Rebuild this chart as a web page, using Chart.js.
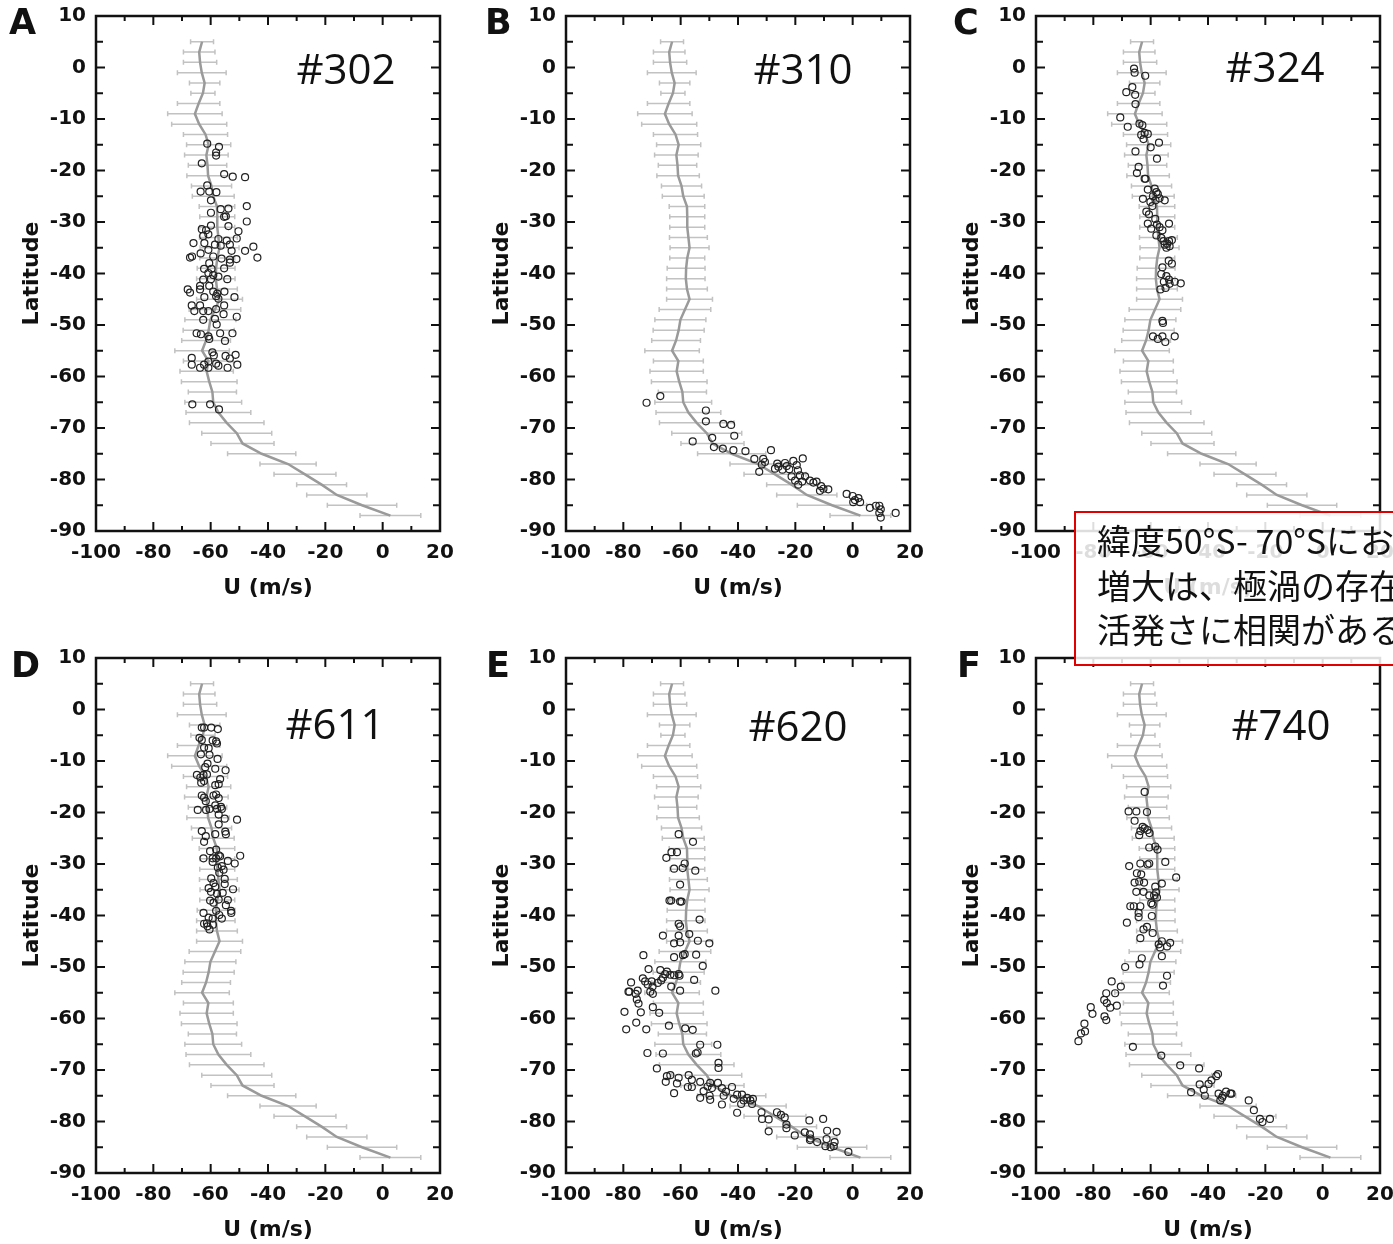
<!DOCTYPE html>
<html>
<head>
<meta charset="utf-8">
<script src="https://cdn.jsdelivr.net/npm/chart.js@4.4.1/dist/chart.umd.min.js"></script>
<style>
  html, body { margin: 0; padding: 0; background: #fff; overflow: hidden; }
  body { width: 1393px; height: 1244px; position: relative; }
  canvas { position: absolute; }
  .letter { position: absolute; font: bold 35px "DejaVu Sans", sans-serif; line-height: 1; color: #111; }
  .tag { position: absolute; font: 42px "Open Sans", sans-serif; line-height: 1; color: #111;
         transform: translate(-50%, -50%); white-space: nowrap; }
  .note { position: absolute; left: 1074px; top: 511px; width: 400px; height: 155px; box-sizing: border-box;
          border: 2px solid #e00000; background: rgba(255, 255, 255, 0.86);
          padding: 5px 0 0 21px; font: 34px "Noto Sans CJK JP", sans-serif; line-height: 44.5px;
          color: #111; white-space: nowrap; }
</style>
</head>
<body>
<script>
// mean zonal wind profile (grey line) and its spread
const profileLat = [5, 3, 1, -1, -3, -5, -7, -9, -11, -13, -15, -17, -19, -21, -23, -25, -27, -29, -31, -33,
    -35, -37, -39, -41, -43, -45, -47, -49, -51, -53, -55, -57, -59, -61, -63, -65, -67, -69, -71, -73,
    -75, -77, -79, -81, -83, -85, -87];
const profileU = [-63, -64, -63.7, -63.1, -62.1, -62.7, -64.2, -65.5, -64, -61.8, -60.7, -61.5, -61.1, -60.9,
    -59.7, -59.1, -57.8, -57.7, -57.7, -57.3, -56.9, -57.7, -58.1, -58.2, -57.8, -56.9, -58.5, -60.1, -60.7,
    -61.6, -63, -60.8, -61.4, -60.5, -59.4, -59.1, -57.3, -54.4, -50.9, -48.9, -42.2, -33, -27.1, -21.3,
    -16, -7.2, 2.7];
const profileErr = [4, 5.5, 5.8, 8.5, 5.3, 4.2, 7.4, 9.5, 9.6, 7.7, 7.7, 7.6, 6.7, 7.4, 7, 7.3, 6.2, 6.1, 6.1,
    6.6, 6.8, 6.1, 6.6, 6.7, 7.1, 8, 9, 8.9, 8.9, 8.5, 9.5, 8.7, 9.3, 9.7, 8.4, 9.9, 11.3, 13, 12.2, 11,
    11.9, 9.8, 10.8, 8.7, 10.5, 12.1, 10.6];

// cloud-tracked winds per orbit: [U (m/s), latitude]
const obs302 = [[-61.2,-14.8],[-57.1,-15.4],[-58.1,-16.5],[-58.1,-17.1],[-63.1,-18.6],[-55.3,-20.7],[-52.3,-21.2],
    [-48.0,-21.3],[-61.2,-22.9],[-63.5,-24.1],[-60.5,-24.1],[-58.0,-24.2],[-59.9,-25.8],[-47.4,-26.9],[-56.5,-27.5],
    [-53.8,-27.4],[-59.9,-28.2],[-55.3,-29.0],[-54.7,-28.9],[-47.4,-29.9],[-53.8,-30.8],[-59.9,-30.7],[-63.1,-31.4],
    [-61.6,-31.6],[-50.3,-31.8],[-62.6,-32.7],[-60.8,-32.4],[-57.3,-33.3],[-50.9,-33.2],[-54.4,-33.6],[-66.0,-34.1],
    [-62.2,-34.1],[-58.5,-34.4],[-56.5,-34.6],[-53.3,-34.4],[-45.1,-34.8],[-48.0,-35.6],[-60.8,-35.4],[-52.7,-35.6],
    [-63.5,-36.1],[-66.5,-36.7],[-67.2,-36.9],[-59.1,-36.7],[-56.2,-37.1],[-53.3,-37.3],[-51.0,-37.2],[-43.7,-36.9],
    [-60.5,-38.0],[-53.3,-37.9],[-62.3,-39.1],[-59.7,-39.1],[-55.3,-39.0],[-60.8,-39.9],[-59.1,-40.3],[-57.3,-40.6],
    [-62.6,-41.2],[-59.9,-41.1],[-54.2,-41.1],[-63.7,-42.4],[-60.5,-42.4],[-68.0,-43.1],[-67.2,-43.7],[-63.7,-43.1],
    [-59.1,-43.5],[-57.7,-43.9],[-55.2,-43.5],[-51.7,-44.6],[-62.2,-44.6],[-58.1,-44.4],[-57.3,-44.9],[-66.6,-46.2],
    [-63.7,-46.2],[-65.7,-47.3],[-62.6,-47.3],[-60.8,-47.3],[-58.1,-46.9],[-55.3,-46.2],[-55.5,-47.9],[-50.9,-48.4],
    [-62.6,-49.0],[-58.5,-48.8],[-57.9,-49.9],[-64.9,-51.6],[-63.4,-51.8],[-60.8,-52.2],[-56.7,-51.6],[-52.4,-51.6],
    [-60.5,-52.7],[-55.0,-53.1],[-59.4,-55.3],[-58.9,-55.9],[-66.6,-56.4],[-66.6,-57.7],[-62.3,-57.7],[-60.8,-57.1],
    [-58.1,-57.5],[-54.8,-56.0],[-53.3,-56.5],[-51.3,-55.8],[-54.1,-58.3],[-50.7,-57.7],[-63.7,-58.3],[-60.8,-58.3],
    [-57.3,-57.9],[-66.4,-65.4],[-60.2,-65.4],[-57.1,-66.4]];

const obs310 = [[-71.9,-65.1],[-67.1,-63.8],[-51.2,-66.6],[-51.2,-68.7],[-45.1,-69.2],[-42.4,-69.4],[-41.3,-71.5],
    [-49.0,-71.9],[-55.8,-72.6],[-48.4,-73.7],[-45.3,-74.0],[-41.6,-74.3],[-37.4,-74.5],[-28.5,-74.3],[-34.3,-76.0],
    [-31.2,-76.0],[-30.6,-76.6],[-31.7,-77.1],[-32.6,-78.5],[-26.3,-76.9],[-25.9,-77.5],[-27.1,-77.9],[-23.6,-76.8],
    [-23.0,-77.4],[-24.5,-78.1],[-22.1,-78.0],[-20.7,-76.4],[-19.5,-77.2],[-17.4,-75.9],[-19.1,-78.2],[-21.3,-79.4],
    [-20.1,-80.2],[-18.4,-79.2],[-17.6,-80.4],[-19.0,-81.0],[-16.6,-79.4],[-14.9,-80.2],[-13.7,-80.6],[-12.6,-80.4],
    [-11.0,-81.3],[-11.4,-82.2],[-10.2,-81.8],[-8.5,-81.9],[-2.1,-82.8],[0.0,-83.2],[0.8,-84.0],[2.0,-83.6],
    [2.6,-84.4],[0.2,-84.4],[6.0,-85.5],[8.1,-85.1],[9.3,-85.1],[9.8,-85.8],[9.3,-86.5],[9.8,-87.4],[15.0,-86.5]];

const obs324 = [[-65.8,-0.2],[-65.6,-1.0],[-61.9,-1.6],[-66.4,-3.8],[-68.5,-4.8],[-65.4,-5.3],[-65.3,-7.1],
    [-70.6,-9.7],[-68.0,-11.5],[-63.9,-10.9],[-62.9,-11.2],[-62.1,-12.7],[-61.0,-12.9],[-63.3,-13.1],[-62.5,-13.9],
    [-57.1,-14.6],[-60.0,-15.5],[-65.3,-16.3],[-57.8,-17.7],[-64.2,-19.3],[-64.8,-20.5],[-62.1,-21.6],[-61.8,-21.6],
    [-61.0,-23.7],[-58.6,-23.5],[-58.0,-24.2],[-59.2,-25.0],[-57.5,-24.6],[-56.9,-25.4],[-58.3,-25.8],[-62.7,-25.5],
    [-60.1,-26.1],[-55.1,-25.8],[-59.4,-26.9],[-61.5,-28.0],[-60.6,-28.5],[-58.4,-29.4],[-61.0,-30.3],[-57.8,-30.5],
    [-53.6,-30.3],[-59.8,-31.3],[-56.9,-31.0],[-55.9,-31.6],[-58.0,-32.6],[-56.3,-33.1],[-55.5,-33.7],[-53.6,-33.7],
    [-52.6,-33.5],[-55.1,-34.4],[-54.2,-34.2],[-53.4,-34.7],[-54.5,-35.0],[-53.7,-37.5],[-52.6,-38.1],[-55.9,-38.8],
    [-56.3,-40.1],[-54.5,-40.5],[-53.6,-41.2],[-55.4,-41.6],[-53.4,-42.0],[-51.6,-41.6],[-49.5,-41.9],[-56.6,-43.1],
    [-54.8,-42.8],[-55.9,-49.2],[-55.7,-49.6],[-59.2,-52.2],[-57.5,-52.7],[-55.9,-52.2],[-54.9,-53.3],[-51.6,-52.2]];

const obs611 = [[-63.1,-3.5],[-62.3,-3.5],[-59.8,-3.5],[-57.5,-3.8],[-63.9,-5.5],[-63.1,-5.9],[-59.3,-6.0],
    [-58.1,-6.2],[-57.8,-6.6],[-62.3,-7.4],[-60.7,-7.5],[-63.4,-8.7],[-60.4,-8.8],[-57.6,-9.6],[-61.1,-10.5],
    [-61.9,-11.2],[-58.4,-11.5],[-54.8,-11.8],[-64.8,-12.7],[-63.6,-13.2],[-62.5,-12.7],[-61.3,-12.6],[-63.3,-14.2],
    [-62.3,-13.9],[-56.7,-13.5],[-58.4,-14.7],[-57.2,-14.5],[-63.1,-16.7],[-62.3,-17.1],[-59.0,-16.7],[-57.2,-17.2],
    [-58.1,-16.5],[-61.7,-17.8],[-58.4,-18.6],[-56.4,-18.9],[-64.5,-19.5],[-61.6,-19.5],[-60.4,-19.3],[-57.8,-19.3],
    [-56.1,-19.3],[-57.2,-20.4],[-55.1,-21.2],[-50.8,-21.4],[-57.2,-22.3],[-63.1,-23.6],[-61.7,-24.6],[-58.4,-24.2],
    [-54.7,-24.2],[-54.9,-23.7],[-62.3,-25.7],[-60.2,-27.5],[-58.1,-27.2],[-57.2,-28.3],[-62.5,-28.9],[-59.3,-28.9],
    [-58.1,-28.9],[-56.7,-28.5],[-49.7,-28.4],[-54.0,-29.4],[-51.6,-29.9],[-59.3,-29.6],[-57.5,-30.7],[-56.1,-30.4],
    [-55.5,-31.1],[-57.0,-31.7],[-59.8,-32.8],[-59.0,-33.7],[-55.1,-32.9],[-55.1,-33.9],[-52.2,-34.9],[-60.7,-34.7],
    [-59.9,-35.4],[-57.8,-35.8],[-55.8,-35.6],[-58.4,-34.4],[-60.2,-37.1],[-59.0,-37.5],[-57.2,-36.9],[-54.0,-37.0],
    [-54.7,-38.0],[-62.5,-39.5],[-58.1,-39.1],[-57.0,-39.9],[-52.8,-39.5],[-52.9,-39.1],[-60.7,-40.4],[-59.3,-40.6],
    [-56.1,-40.6],[-62.3,-41.6],[-61.1,-42.1],[-59.2,-41.8],[-60.4,-42.7],[-61.3,-41.5]];

const obs620 = [[-60.7,-24.2],[-55.7,-25.7],[-63.2,-27.7],[-61.3,-27.7],[-65.0,-28.8],[-58.6,-29.9],[-62.3,-30.9],
    [-59.3,-30.8],[-54.9,-31.3],[-60.2,-34.0],[-63.9,-37.1],[-63.3,-37.1],[-60.2,-37.3],[-59.7,-37.3],[-53.4,-40.8],
    [-60.7,-41.6],[-60.2,-42.1],[-66.2,-43.9],[-60.7,-43.9],[-57.0,-43.6],[-54.0,-44.9],[-50.0,-45.4],[-62.3,-45.4],
    [-60.2,-45.2],[-73.0,-47.7],[-62.3,-48.1],[-59.2,-47.7],[-58.6,-47.5],[-54.6,-47.6],[-52.3,-49.8],[-71.2,-50.4],
    [-67.1,-50.6],[-64.8,-50.9],[-63.6,-51.5],[-65.4,-51.4],[-62.3,-51.6],[-60.7,-51.4],[-60.4,-51.7],[-73.2,-52.2],
    [-72.4,-52.8],[-70.1,-52.8],[-66.8,-52.6],[-66.2,-52.1],[-68.0,-53.1],[-77.3,-53.0],[-71.5,-53.4],[-69.8,-53.8],
    [-63.3,-53.8],[-55.3,-52.5],[-78.2,-54.8],[-77.9,-54.8],[-75.0,-54.6],[-75.7,-55.2],[-70.6,-54.8],[-69.7,-55.2],
    [-60.2,-54.6],[-47.9,-54.6],[-75.3,-56.3],[-74.7,-57.1],[-79.6,-58.7],[-69.7,-57.8],[-73.9,-58.8],[-67.5,-58.9],
    [-75.5,-60.8],[-79.0,-62.1],[-72.0,-62.1],[-64.1,-61.4],[-58.4,-61.9],[-55.8,-62.2],[-71.6,-66.7],[-53.2,-65.1],
    [-47.2,-65.1],[-54.7,-66.8],[-54.1,-66.6],[-66.2,-66.8],[-68.3,-69.7],[-46.8,-68.6],[-46.8,-69.6],[-64.8,-71.2],
    [-63.6,-71.0],[-65.2,-72.3],[-60.7,-71.5],[-57.2,-71.0],[-56.1,-71.9],[-61.3,-72.6],[-62.3,-74.5],[-57.5,-73.3],
    [-56.1,-73.3],[-53.2,-72.3],[-52.0,-74.1],[-50.6,-73.2],[-49.7,-72.5],[-53.2,-75.4],[-49.9,-75.0],[-49.7,-75.8],
    [-49.1,-73.5],[-47.0,-72.5],[-45.6,-73.5],[-44.2,-74.2],[-45.0,-75.0],[-45.6,-76.7],[-42.1,-73.3],[-40.3,-74.8],
    [-41.5,-75.6],[-38.6,-74.8],[-38.9,-76.6],[-40.3,-78.3],[-38.0,-75.9],[-36.8,-75.4],[-35.7,-75.9],[-34.8,-75.6],
    [-35.1,-76.6],[-31.8,-78.2],[-31.6,-79.5],[-29.3,-79.6],[-29.3,-81.9],[-26.4,-78.2],[-25.0,-78.7],[-23.7,-79.2],
    [-23.1,-80.6],[-23.1,-81.3],[-20.2,-82.7],[-16.7,-82.1],[-15.1,-79.8],[-14.9,-82.5],[-14.7,-83.3],[-14.9,-83.6],
    [-12.4,-84.0],[-10.3,-79.5],[-8.9,-81.8],[-9.1,-83.4],[-9.5,-84.8],[-7.7,-85.0],[-6.3,-84.0],[-5.6,-82.0],
    [-6.6,-84.8],[-1.5,-85.9]];

const obs740 = [[-62.1,-16.0],[-67.7,-19.8],[-65.0,-19.8],[-61.3,-19.9],[-65.6,-21.6],[-62.8,-22.8],[-62.1,-23.1],
    [-61.1,-23.4],[-63.6,-23.6],[-64.0,-24.4],[-60.4,-24.0],[-60.5,-26.8],[-58.4,-26.6],[-57.6,-27.2],[-54.9,-29.6],
    [-67.5,-30.4],[-63.6,-29.9],[-61.1,-30.1],[-60.5,-29.9],[-51.1,-32.6],[-64.8,-31.8],[-63.3,-32.0],[-65.6,-33.6],
    [-64.0,-33.4],[-62.3,-33.6],[-56.1,-33.8],[-65.0,-35.4],[-62.5,-35.4],[-58.4,-34.4],[-60.5,-36.1],[-58.8,-36.1],
    [-58.1,-35.5],[-57.8,-36.5],[-67.1,-38.2],[-65.9,-38.2],[-63.6,-38.2],[-59.8,-37.6],[-59.3,-37.9],[-64.2,-39.5],
    [-64.2,-40.3],[-59.6,-40.1],[-68.3,-41.4],[-62.5,-42.7],[-61.3,-42.2],[-59.3,-43.4],[-63.6,-44.4],[-56.1,-45.0],
    [-57.2,-45.6],[-53.2,-45.3],[-54.3,-46.0],[-56.7,-46.2],[-56.1,-47.9],[-63.1,-48.3],[-63.9,-49.5],[-68.9,-50.0],
    [-54.3,-51.7],[-55.7,-53.6],[-73.6,-52.8],[-70.4,-53.8],[-75.5,-55.1],[-72.4,-55.1],[-71.8,-57.5],[-76.2,-56.4],
    [-75.3,-57.0],[-74.1,-57.9],[-80.9,-57.8],[-80.3,-59.1],[-76.1,-59.6],[-75.5,-60.3],[-83.1,-61.0],[-82.9,-62.5],
    [-84.3,-62.9],[-85.2,-64.4],[-66.2,-65.5],[-56.3,-67.2],[-49.7,-69.1],[-43.1,-69.7],[-36.5,-70.8],[-37.1,-71.2],
    [-38.8,-72.0],[-39.8,-72.7],[-42.9,-72.8],[-41.5,-73.8],[-45.9,-74.3],[-41.1,-75.0],[-36.3,-74.6],[-34.8,-75.0],
    [-33.7,-74.2],[-32.2,-74.6],[-31.8,-74.6],[-35.7,-75.9],[-35.1,-75.4],[-25.8,-75.9],[-24.0,-77.8],[-21.9,-79.5],
    [-21.0,-80.1],[-18.4,-79.5]];

const panels = [
    { letter: 'A', name: '#302', obs: obs302, left: 0,   top: 0,   letterX: 9,   letterY: 5,   tagX: 346,  tagY: 68 },
    { letter: 'B', name: '#310', obs: obs310, left: 470, top: 0,   letterX: 485, letterY: 5,   tagX: 803,  tagY: 68 },
    { letter: 'C', name: '#324', obs: obs324, left: 940, top: 0,   letterX: 953, letterY: 5,   tagX: 1275, tagY: 66 },
    { letter: 'D', name: '#611', obs: obs611, left: 0,   top: 642, letterX: 11,  letterY: 648, tagX: 335,  tagY: 723 },
    { letter: 'E', name: '#620', obs: obs620, left: 470, top: 642, letterX: 486, letterY: 648, tagX: 798,  tagY: 725 },
    { letter: 'F', name: '#740', obs: obs740, left: 940, top: 642, letterX: 957, letterY: 648, tagX: 1281, tagY: 724 },
];

const axisFont = { family: '"DejaVu Sans", sans-serif', size: 20, weight: 'bold' };
const titleFont = { family: '"DejaVu Sans", sans-serif', size: 22, weight: 'bold' };

// error bars underneath, black frame with inward ticks on top
const frameAndErrors = {
    id: 'frameAndErrors',
    beforeDatasetsDraw(chart) {
        const { ctx, scales: { x, y } } = chart;
        ctx.save();
        ctx.strokeStyle = '#c2c2c2';
        ctx.lineWidth = 1.5;
        ctx.beginPath();
        profileLat.forEach((lat, i) => {
            const py = y.getPixelForValue(lat);
            const x1 = x.getPixelForValue(profileU[i] - profileErr[i]);
            const x2 = x.getPixelForValue(profileU[i] + profileErr[i]);
            ctx.moveTo(x1, py); ctx.lineTo(x2, py);
            ctx.moveTo(x1, py - 2.5); ctx.lineTo(x1, py + 2.5);
            ctx.moveTo(x2, py - 2.5); ctx.lineTo(x2, py + 2.5);
        });
        ctx.stroke();
        ctx.restore();
    },
    afterDatasetsDraw(chart) {
        const { ctx, chartArea: a, scales: { x, y } } = chart;
        ctx.save();
        ctx.strokeStyle = '#111';
        ctx.lineWidth = 2;
        ctx.beginPath();
        for (let v = x.min + 10; v < x.max; v += 10) {
            const px = x.getPixelForValue(v);
            const len = v % 20 === 0 ? 9 : 5;
            ctx.moveTo(px, a.bottom); ctx.lineTo(px, a.bottom - len);
            ctx.moveTo(px, a.top); ctx.lineTo(px, a.top + len);
        }
        for (let v = y.min + 5; v < y.max; v += 5) {
            const py = y.getPixelForValue(v);
            const len = v % 10 === 0 ? 9 : 7;
            ctx.moveTo(a.left, py); ctx.lineTo(a.left + len, py);
            ctx.moveTo(a.right, py); ctx.lineTo(a.right - len, py);
        }
        ctx.stroke();
        ctx.lineWidth = 2.5;
        ctx.strokeRect(a.left, a.top, a.right - a.left, a.bottom - a.top);
        ctx.restore();
    }
};

panels.forEach(p => {
    const canvas = document.createElement('canvas');
    canvas.width = 470;
    canvas.height = 620;
    canvas.style.left = p.left + 'px';
    canvas.style.top = p.top + 'px';
    document.body.appendChild(canvas);

    new Chart(canvas.getContext('2d'), {
        type: 'scatter',
        data: {
            datasets: [
                {
                    data: p.obs.map(d => ({ x: d[0], y: d[1] })),
                    pointStyle: 'circle',
                    pointRadius: 3.5,
                    pointBorderWidth: 1.2,
                    pointBorderColor: '#222',
                    pointBackgroundColor: 'rgba(0,0,0,0)',
                },
                {
                    data: profileLat.map((lat, i) => ({ x: profileU[i], y: lat })),
                    showLine: true,
                    pointRadius: 0,
                    borderColor: '#9a9a9a',
                    borderWidth: 2.5,
                },
            ],
        },
        options: {
            responsive: false,
            animation: false,
            devicePixelRatio: 1,
            layout: { padding: { top: 16, right: 30, bottom: 0, left: 0 } },
            plugins: { legend: { display: false }, tooltip: { enabled: false } },
            scales: {
                x: {
                    type: 'linear',
                    min: -100,
                    max: 20,
                    ticks: { stepSize: 20, padding: 10, color: '#111', font: axisFont, maxRotation: 0 },
                    grid: { display: false, drawTicks: false },
                    border: { display: false },
                    title: { display: true, text: 'U (m/s)', color: '#111', font: titleFont,
                             padding: { top: 0, bottom: 19 } },
                    afterFit: s => { s.height = 89; },
                },
                y: {
                    type: 'linear',
                    min: -90,
                    max: 10,
                    ticks: { stepSize: 10, padding: 10, color: '#111', font: axisFont },
                    grid: { display: false, drawTicks: false },
                    border: { display: false },
                    title: { display: true, text: 'Latitude', color: '#111', font: titleFont,
                             padding: { top: 19, bottom: 0 } },
                    afterFit: s => { s.width = 96; s.paddingTop = 8; s.paddingBottom = 8; },
                },
            },
        },
        plugins: [frameAndErrors],
    });

    const letter = document.createElement('div');
    letter.className = 'letter';
    letter.textContent = p.letter;
    letter.style.left = p.letterX + 'px';
    letter.style.top = p.letterY + 'px';
    document.body.appendChild(letter);

    const tag = document.createElement('div');
    tag.className = 'tag';
    tag.textContent = p.name;
    tag.style.left = p.tagX + 'px';
    tag.style.top = p.tagY + 'px';
    document.body.appendChild(tag);
});

const note = document.createElement('div');
note.className = 'note';
note.innerHTML = '緯度50°S- 70°Sにおける東西風の<br>増大は、極渦の存在と<br>活発さに相関がある';
document.body.appendChild(note);
</script>
</body>
</html>
